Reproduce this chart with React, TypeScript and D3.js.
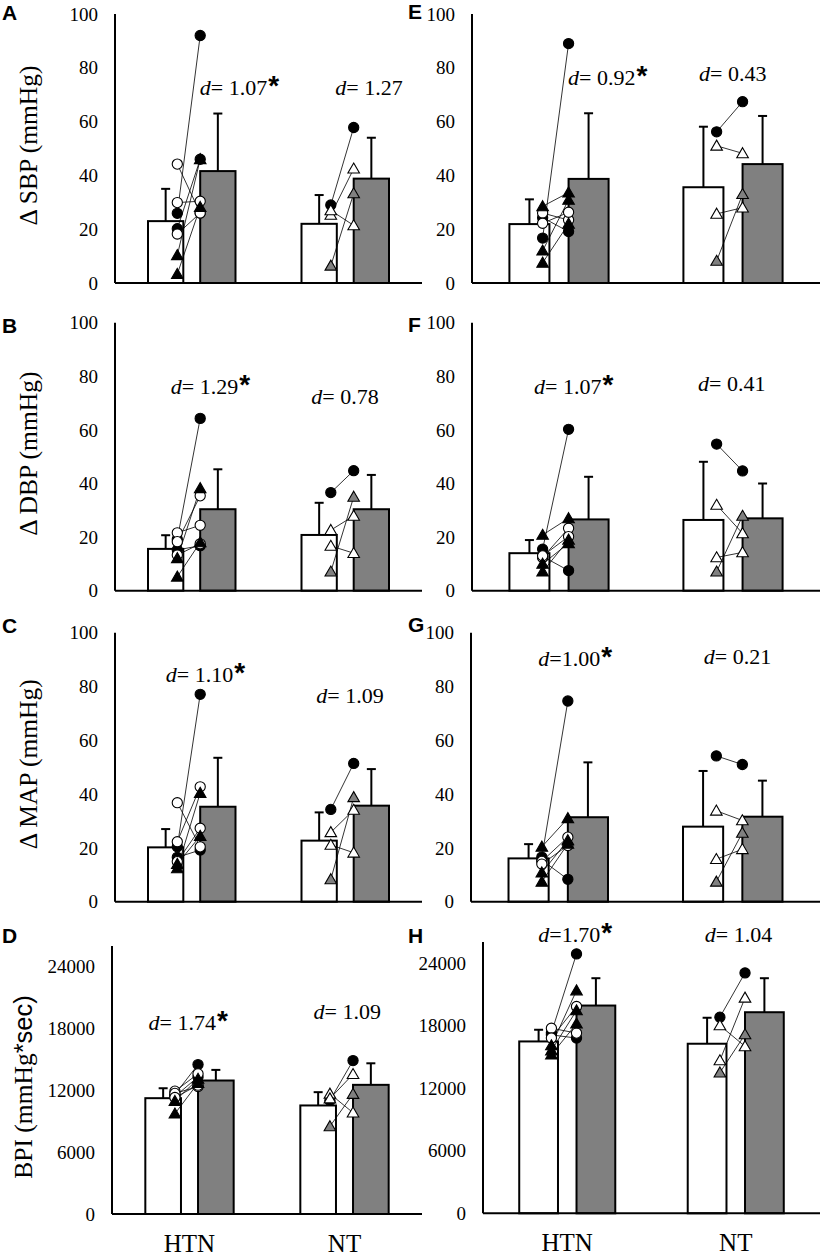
import React from 'react'
import * as d3 from 'd3'

// groups and ticks
const groups = ['HTN', 'NT']
const mmTicks = [0, 20, 40, 60, 80, 100]
const bpiTicks = [0, 6000, 12000, 18000, 24000]

// bars per group: [pre mean, pre SD, post mean, post SD]
const sbpLeftBars = [[23, 12, 41.6, 21.4], [22, 10.7, 38.8, 15.2]]
const dbpLeftBars = [[15.6, 5.1, 30.4, 14.9], [20.8, 12, 30.4, 12.8]]
const mapLeftBars = [[20.2, 6.8, 35.3, 18.2], [22.7, 10.5, 35.7, 13.6]]
const bpiLeftBars = [[11236, 964, 12950, 1030], [10530, 1290, 12530, 2090]]
const sbpRightBars = [[21.9, 9.2, 38.7, 24.4], [35.6, 22.5, 44.2, 17.9]]
const dbpRightBars = [[14, 4.9, 26.6, 15.9], [26.4, 21.7, 27, 13]]
const mapRightBars = [[16.1, 5.3, 31.4, 20.4], [27.9, 20.7, 31.6, 13.4]]
const bpiRightBars = [[16470, 1120, 19910, 2620], [16250, 2490, 19270, 3260]]

// subjects: [marker, pre, post]
// fc filled circle, oc open circle, ft filled triangle, ot open triangle, gt grey triangle
type Subj = [string, number, number]
const sbpLeftHtn: Subj[] = [['fc', 25.9, 92], ['fc', 20.2, 46], ['oc', 44.2, 26], ['oc', 29.9, 30.4], ['oc', 18.2, 26], ['ft', 10.3, 46], ['ft', 3.3, 28.2]]
const sbpLeftNt: Subj[] = [['fc', 29, 57.8], ['ot', 25.3, 42.5], ['ot', 27, 21.4], ['gt', 6.4, 33.3]]
const dbpLeftHtn: Subj[] = [['fc', 19.2, 64.3], ['fc', 15.2, 16.8], ['oc', 21.6, 24.4], ['oc', 18.3, 35.4], ['oc', 13.3, 17.5], ['ft', 12.1, 38.2], ['ft', 5.2, 18]]
const dbpLeftNt: Subj[] = [['fc', 36.6, 44.8], ['ot', 22.6, 27.9], ['ot', 16.7, 14], ['gt', 7.1, 35]]
const mapLeftHtn: Subj[] = [['fc', 20.4, 77.1], ['fc', 16.5, 19.2], ['oc', 36.8, 20.4], ['oc', 22.3, 42.7], ['oc', 14.9, 27.3], ['ft', 12.4, 40.4], ['ft', 14, 24.4]]
const mapLeftNt: Subj[] = [['fc', 34.3, 51.4], ['ot', 25.8, 34.1], ['ot', 21.1, 18.2], ['gt', 8.3, 38.8]]
const bpiLeftHtn: Subj[] = [['fc', 11600, 14500], ['fc', 11400, 13300], ['oc', 11915, 13600], ['oc', 11700, 12370], ['oc', 11300, 12500], ['ft', 10950, 13100], ['ft', 9730, 12700]]
const bpiLeftNt: Subj[] = [['fc', 11015, 14880], ['ot', 11660, 9830], ['ot', 11200, 13560], ['gt', 8500, 11640]]
const sbpRightHtn: Subj[] = [['fc', 16.7, 89], ['fc', 24.3, 19.1], ['oc', 26, 23.4], ['oc', 22.2, 26.3], ['ft', 28.5, 33.6], ['ft', 12, 30.9], ['ft', 7.5, 22]]
const sbpRightNt: Subj[] = [['fc', 56.2, 67.4], ['ot', 51, 48.2], ['ot', 25.7, 28], ['gt', 8.2, 33]]
const dbpRightHtn: Subj[] = [['fc', 15.5, 60.2], ['fc', 12.8, 7.5], ['oc', 12.4, 23.3], ['oc', 13, 20.2], ['ft', 20.8, 27], ['ft', 10, 17.7], ['ft', 7.1, 19]]
const dbpRightNt: Subj[] = [['fc', 54.7, 44.7], ['ot', 32, 21.4], ['ot', 12.4, 14.3], ['gt', 7.1, 27.9]]
const mapRightHtn: Subj[] = [['fc', 16.6, 74.6], ['fc', 15.5, 8.3], ['oc', 15, 24], ['oc', 14, 20.9], ['ft', 20.4, 31], ['ft', 10.8, 22.8], ['ft', 7.4, 21.5]]
const mapRightNt: Subj[] = [['fc', 54.2, 51], ['ot', 33.8, 30.2], ['ot', 15.8, 19.5], ['gt', 7.4, 25.6]]
const bpiRightHtn: Subj[] = [['fc', 17300, 24860], ['fc', 17100, 16790], ['oc', 17740, 17270], ['oc', 16800, 19820], ['ft', 16090, 21350], ['ft', 15600, 19440], ['ft', 15200, 18170]]
const bpiRightNt: Subj[] = [['fc', 18800, 23040], ['ot', 18000, 16000], ['ot', 14650, 20650], ['gt', 13480, 17140]]

// effect sizes (HTN significant)
const sbpLeftD = ['= 1.07', '= 1.27']
const dbpLeftD = ['= 1.29', '= 0.78']
const mapLeftD = ['= 1.10', '= 1.09']
const bpiLeftD = ['= 1.74', '= 1.09']
const sbpRightD = ['= 0.92', '= 0.43']
const dbpRightD = ['= 1.07', '= 0.41']
const mapRightD = ['=1.00', '= 0.21']
const bpiRightD = ['=1.70', '= 1.04']
const significant = [true, false]

const GREY = '#808080'
const SERIF = '"Liberation Serif", "Times New Roman", serif'
const SANS = '"Liberation Sans", Arial, sans-serif'

interface PanelCfg {
  letter: string
  title?: React.ReactNode
  titleX?: number
  x0: number
  x1: number
  top: number
  bottom: number
  max: number
  ticks: number[]
  bars: number[][]
  htn: Subj[]
  nt: Subj[]
  d: string[]
  labelDx: number[]
  labelY: number[]
  letterX: number
  letterY: number
  showX?: boolean
}

const panels: PanelCfg[] = [
  { letter: 'A', title: 'Δ SBP (mmHg)', titleX: 37, x0: 115, x1: 422, top: 14, bottom: 283, max: 100, ticks: mmTicks,
    bars: sbpLeftBars, htn: sbpLeftHtn, nt: sbpLeftNt, d: sbpLeftD, labelDx: [8, -10], labelY: [70.6, 70.6], letterX: 2, letterY: 20 },
  { letter: 'B', title: 'Δ DBP (mmHg)', titleX: 37, x0: 115, x1: 422, top: 322.7, bottom: 590.7, max: 100, ticks: mmTicks,
    bars: dbpLeftBars, htn: dbpLeftHtn, nt: dbpLeftNt, d: dbpLeftD, labelDx: [-21, -34], labelY: [74.3, 70.5], letterX: 2, letterY: 333 },
  { letter: 'C', title: 'Δ MAP (mmHg)', titleX: 37, x0: 115, x1: 422, top: 632.7, bottom: 901.7, max: 100, ticks: mmTicks,
    bars: mapLeftBars, htn: mapLeftHtn, nt: mapLeftNt, d: mapLeftD, labelDx: [-26, -29], labelY: [82.4, 74.7], letterX: 2, letterY: 633 },
  { letter: 'D', title: (<><tspan>BPI (mmHg</tspan><tspan fontFamily={SANS}>*sec)</tspan></>), titleX: 32, x0: 112, x1: 422, top: 946, bottom: 1214, max: 26000, ticks: bpiTicks,
    bars: bpiLeftBars, htn: bpiLeftHtn, nt: bpiLeftNt, d: bpiLeftD, labelDx: [-41, -31], labelY: [18030, 19100], letterX: 2, letterY: 943, showX: true },
  { letter: 'E', x0: 472, x1: 820, top: 14, bottom: 283, max: 100, ticks: mmTicks,
    bars: sbpRightBars, htn: sbpRightHtn, nt: sbpRightNt, d: sbpRightD, labelDx: [9, -34], labelY: [74.2, 75.7], letterX: 408, letterY: 19 },
  { letter: 'F', x0: 472, x1: 820, top: 322.7, bottom: 590.7, max: 100, ticks: mmTicks,
    bars: dbpRightBars, htn: dbpRightHtn, nt: dbpRightNt, d: dbpRightD, labelDx: [-25, -35], labelY: [74.3, 75.1], letterX: 408, letterY: 332 },
  { letter: 'G', x0: 471, x1: 820, top: 632.7, bottom: 901.7, max: 100, ticks: mmTicks,
    bars: mapRightBars, htn: mapRightHtn, nt: mapRightNt, d: mapRightD, labelDx: [-20, -29], labelY: [88.3, 89.2], letterX: 408, letterY: 632 },
  { letter: 'H', x0: 483, x1: 820, top: 942, bottom: 1213.3, max: 26000, ticks: bpiTicks,
    bars: bpiRightBars, htn: bpiRightHtn, nt: bpiRightNt, d: bpiRightD, labelDx: [-29, -31], labelY: [26190, 26190], letterX: 408, letterY: 943, showX: true },
]

const circlePath = d3.symbol(d3.symbolCircle, 82)()
const trianglePath = d3.symbol(d3.symbolTriangle, 58)()

function Marker({ kind, x, y }: { kind: string, x: number, y: number }) {
  const isTri = kind === 'ft' || kind === 'ot' || kind === 'gt'
  const fill = kind === 'fc' || kind === 'ft' ? '#000' : kind === 'gt' ? GREY : '#fff'
  return (
    <path
      d={(isTri ? trianglePath : circlePath) || ''}
      transform={`translate(${x},${y + (isTri ? 1 : 0)})`}
      fill={fill}
      stroke="#000"
      strokeWidth={1.1}
    />
  )
}

function Panel({ p }: { p: PanelCfg }) {
  const y = d3.scaleLinear().domain([0, p.max]).range([p.bottom, p.top])
  const x = d3.scaleBand().domain(groups).range([p.x0, p.x1])
  const step = x.step()
  const bw = 0.23 * step
  const gap = 0.11 * step
  const subjects = [p.htn, p.nt]

  return (
    <g>
      {/* panel letter */}
      <text x={p.letterX} y={p.letterY} fontFamily={SANS} fontWeight="bold" fontSize={21}>{p.letter}</text>

      {/* y title */}
      {p.title && (
        <text
          transform={`translate(${p.titleX},${(p.top + p.bottom) / 2 + (p.max > 100 ? 7 : -3)}) rotate(-90)`}
          textAnchor="middle"
          fontFamily={SERIF}
          fontSize={25.5}
        >{p.title}</text>
      )}

      {/* tick labels */}
      {p.ticks.map(t => (
        <text key={t} x={p.x0 - 17} y={y(t)} dy="0.35em" textAnchor="end" fontFamily={SERIF} fontSize={19}>{t}</text>
      ))}

      {groups.map((g, gi) => {
        const c = (x(g) ?? 0) + x.bandwidth() / 2
        const [preM, preSd, postM, postSd] = p.bars[gi]
        const preL = c - gap / 2 - bw
        const postL = c + gap / 2
        const preX = c - gap / 2 - 0.17 * bw
        const postX = c + gap / 2
        const errs = [[preL + bw / 2, preM, preSd], [postL + bw / 2, postM, postSd]]
        return (
          <g key={g}>
            {errs.map(([ex, m, sd], i) => (
              <g key={i} stroke="#000" strokeWidth={2}>
                <line x1={ex} x2={ex} y1={y(m)} y2={y(m + sd)} />
                <line x1={ex - 4.5} x2={ex + 4.5} y1={y(m + sd)} y2={y(m + sd)} />
              </g>
            ))}
            <rect x={preL} y={y(preM)} width={bw} height={y(0) - y(preM)} fill="#fff" stroke="#000" strokeWidth={2} />
            <rect x={postL} y={y(postM)} width={bw} height={y(0) - y(postM)} fill={GREY} stroke="#000" strokeWidth={2} />

            {subjects[gi].map((s, i) => (
              <line key={i} x1={preX} y1={y(s[1])} x2={postX} y2={y(s[2])} stroke="#000" strokeWidth={0.8} />
            ))}
            {subjects[gi].map((s, i) => (
              <g key={i}>
                <Marker kind={s[0]} x={preX} y={y(s[1])} />
                <Marker kind={s[0]} x={postX} y={y(s[2])} />
              </g>
            ))}

            {/* effect size */}
            <text x={c + p.labelDx[gi]} y={y(p.labelY[gi]) + 2} fontFamily={SERIF} fontSize={22}>
              <tspan fontStyle="italic">d</tspan>
              <tspan>{p.d[gi]}</tspan>
              {significant[gi] && (
                <tspan fontFamily={SANS} fontWeight="bold" fontSize={28} dx={1}>*</tspan>
              )}
            </text>

            {p.showX && (
              <text x={c} y={p.bottom + 38} textAnchor="middle" fontFamily={SERIF} fontSize={25}>{g}</text>
            )}
          </g>
        )
      })}

      {/* axes */}
      <line x1={p.x0} x2={p.x0} y1={p.top} y2={p.bottom} stroke="#000" strokeWidth={2} />
      <line x1={p.x0} x2={p.x1} y1={p.bottom} y2={p.bottom} stroke="#000" strokeWidth={2} />
    </g>
  )
}

export default function App() {
  return (
    <div style={{ position: 'absolute', left: 0, top: 0 }}>
      <svg width={823} height={1258} viewBox="0 0 823 1258" style={{ display: 'block', background: '#fff' }}>
        {panels.map(p => <Panel key={p.letter} p={p} />)}
      </svg>
    </div>
  )
}
